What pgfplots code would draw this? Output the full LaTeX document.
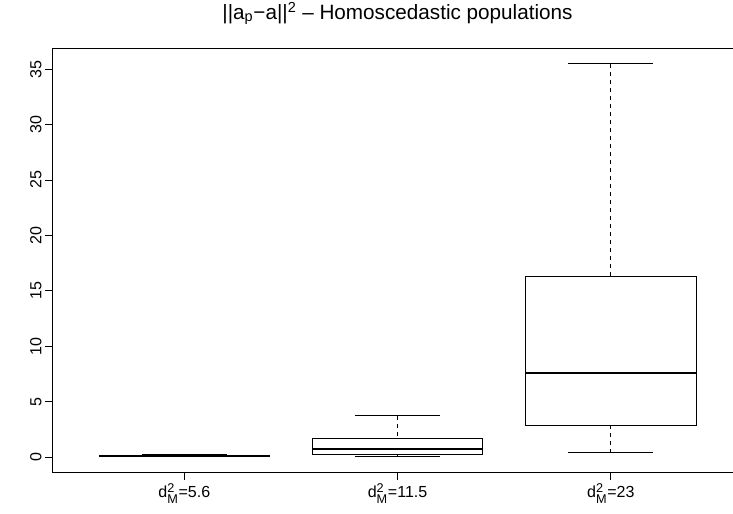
\documentclass[border=0pt]{standalone}
\usepackage{fontspec}
\setmainfont{Liberation Sans}
\usepackage{amsmath}
\usepackage{pgfplots}
\pgfplotsset{compat=1.18}
\usepgfplotslibrary{statistics}
\DeclareMathSizes{12}{12}{9.5}{7}

% R-style whiskers: dashed stem, solid staple
\pgfplotsset{
  boxplot/draw/lower whisker/.code={%
    \draw[dash pattern=on 3pt off 3pt]
      (boxplot box cs:\pgfplotsboxplotvalue{lower whisker},0.5) --
      (boxplot box cs:\pgfplotsboxplotvalue{lower quartile},0.5);
    \draw (boxplot whisker cs:\pgfplotsboxplotvalue{lower whisker},0) --
      (boxplot whisker cs:\pgfplotsboxplotvalue{lower whisker},1);
  },
  boxplot/draw/upper whisker/.code={%
    \draw[dash pattern=on 3pt off 3pt]
      (boxplot box cs:\pgfplotsboxplotvalue{upper whisker},0.5) --
      (boxplot box cs:\pgfplotsboxplotvalue{upper quartile},0.5);
    \draw (boxplot whisker cs:\pgfplotsboxplotvalue{upper whisker},0) --
      (boxplot whisker cs:\pgfplotsboxplotvalue{upper whisker},1);
  },
}

\begin{document}
\begin{tikzpicture}
\useasboundingbox (-39pt,-30.75pt) rectangle (510pt,354pt);
\begin{axis}[
  scale only axis, width=517.5pt, height=318pt,
  at={(0,0)}, anchor=south west,
  xmin=0.38, xmax=3.62, ymin=-1.4, ymax=36.9,
  xtick={1,2,3},
  xticklabels={d$^{\text{2}}_{\text{M}}$=5.6, d$^{\text{2}}_{\text{M}}$=11.5, d$^{\text{2}}_{\text{M}}$=23},
  ytick={0,5,...,35},
  tick pos=left, tick align=outside, major tick length=5.25pt,
  tick style={black, line width=0.6pt},
  axis line style={line width=0.6pt},
  ticklabel style={font=\fontsize{12}{13}\selectfont},
  xticklabel style={inner sep=2.5pt},
  yticklabel style={rotate=90, anchor=south, inner sep=2.5pt},
  /pgf/number format/assume math mode=true,
  title={||a\textsubscript{p}−a||\textsuperscript{2} – Homoscedastic populations},
  title style={at={(0.5,1)}, anchor=base, yshift=15.75pt, font=\fontsize{15.5}{17}\selectfont},
  boxplot/draw direction=y,
  boxplot/box extend=0.8, boxplot/whisker extend=0.4,
  boxplot/every median/.style={line width=1.6pt},
]
\addplot[black, line width=0.6pt, boxplot prepared={draw position=1,
  lower whisker=0.02, lower quartile=0.07, median=0.11,
  upper quartile=0.16, upper whisker=0.25}] coordinates {};
\addplot[black, line width=0.6pt, boxplot prepared={draw position=2,
  lower whisker=0.03, lower quartile=0.28, median=0.75,
  upper quartile=1.65, upper whisker=3.72}] coordinates {};
\addplot[black, line width=0.6pt, boxplot prepared={draw position=3,
  lower whisker=0.39, lower quartile=2.89, median=7.55,
  upper quartile=16.26, upper whisker=35.5}] coordinates {};
\end{axis}
\end{tikzpicture}
\end{document}
